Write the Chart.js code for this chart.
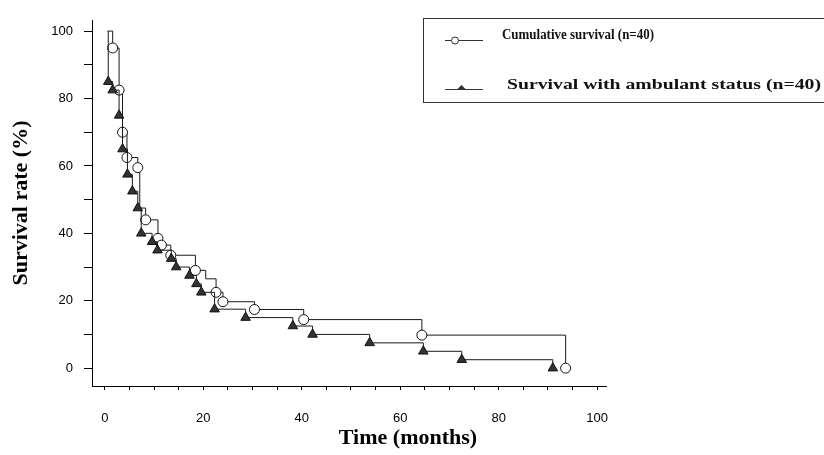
<!DOCTYPE html>
<html>
<head>
<meta charset="utf-8">
<script src="https://cdn.jsdelivr.net/npm/chart.js@4.4.1/dist/chart.umd.min.js"></script>
<style>
  html, body { margin: 0; padding: 0; background: #fff; }
</style>
</head>
<body>
<canvas id="chart" width="824" height="455"></canvas>
<script>
// Series labels and axis titles
var cumLabel = "Cumulative survival (n=40)";
var ambLabel = "Survival with ambulant status (n=40)";
var xTitle = "Time (months)";
var yTitle = "Survival rate (%)";

// Cumulative survival curve (time in months, survival %)
var cumTime = [0.6, 1.6, 2.9, 3.6, 4.5, 6.7, 7.1, 8.3, 10.8, 11.5, 13.4, 18.4, 20.5, 22.6, 24.0, 30.4, 40.4, 64.4, 93.6];
var cumSurv = [100, 95, 82.5, 70, 62.5, 59.5, 47.5, 44, 38.5, 36.5, 33.5, 29, 26.5, 22.5, 19.7, 17.4, 14.4, 9.8, 0];
var cumNoMark = [0, 6, 12];

// Survival with ambulant status
var ambTime = [0.6, 0.7, 1.6, 2.9, 3.6, 4.6, 5.6, 6.7, 7.4, 9.6, 10.7, 13.5, 14.5, 17.2, 18.6, 19.6, 22.3, 28.6, 38.2, 42.2, 53.8, 64.7, 72.5, 91.0];
var ambSurv = [100, 85, 82.5, 75, 65, 57.5, 52.5, 47.5, 40, 37.5, 35, 32.5, 30, 27.5, 25, 22.5, 17.5, 15, 12.5, 10, 7.5, 5, 2.5, 0];
var ambNoMark = [0];

// Axis ticks
var xTicks = [0, 5, 10, 15, 20, 25, 30, 35, 40, 45, 50, 55, 60, 65, 70, 75, 80, 85, 90, 95, 100];
var xLabels = [0, 20, 40, 60, 80, 100];
var yTicks = [0, 10, 20, 30, 40, 50, 60, 70, 80, 90, 100];
var yLabels = [0, 20, 40, 60, 80, 100];

function toPoints(times, values) {
  return times.map(function (t, i) { return { x: t, y: values[i] }; });
}

// Legend drawn as a boxed panel in the upper right, plus the x title
var boxLegend = {
  id: "boxLegend",
  afterDraw: function (chart) {
    var ctx = chart.ctx;
    var sets = chart.data.datasets;
    ctx.save();
    ctx.strokeStyle = "#333";
    ctx.lineWidth = 1;
    ctx.strokeRect(423.5, 18.5, 420, 84);

    // symbols
    ctx.beginPath();
    ctx.moveTo(445, 40.5); ctx.lineTo(483, 40.5);
    ctx.moveTo(445, 89.5); ctx.lineTo(483, 89.5);
    ctx.stroke();
    ctx.beginPath();
    ctx.arc(455, 40.5, 3.5, 0, Math.PI * 2);
    ctx.fillStyle = "#fff"; ctx.fill(); ctx.stroke();
    ctx.beginPath();
    ctx.moveTo(457, 89.5); ctx.lineTo(466, 89.5); ctx.lineTo(461.5, 85);
    ctx.closePath();
    ctx.fillStyle = "#333"; ctx.fill();

    // texts, fitted to the widths seen in the reference
    ctx.fillStyle = "#111";
    ctx.font = "bold 15px 'Liberation Serif'";
    ctx.textBaseline = "alphabetic";
    var rows = [
      { text: sets[1].label, x: 502, y: 38.5, w: 152 },
      { text: sets[0].label, x: 507, y: 88.5, w: 314 }
    ];
    rows.forEach(function (r) {
      var m = ctx.measureText(r.text).width;
      ctx.save();
      ctx.translate(r.x, r.y);
      ctx.scale(r.w / m, 1);
      ctx.fillText(r.text, 0, 0);
      ctx.restore();
    });

    // x axis title, centred where the reference has it
    ctx.font = "bold 22px 'Liberation Serif'";
    ctx.textAlign = "center";
    ctx.textBaseline = "middle";
    ctx.fillStyle = "#000";
    ctx.fillText(xTitle, 408, 438);
    ctx.restore();
  }
};

var ctx = document.getElementById("chart").getContext("2d");

var chart = new Chart(ctx, {
  type: "line",
  data: {
    datasets: [
      {
        label: ambLabel,
        data: toPoints(ambTime, ambSurv),
        stepped: true,
        borderColor: "#1a1a1a",
        borderWidth: 1,
        fill: false,
        pointStyle: "triangle",
        pointRadius: function (c) { return ambNoMark.indexOf(c.dataIndex) >= 0 ? 0 : 5.5; },
        pointBackgroundColor: "#333",
        pointBorderColor: "#111",
        pointBorderWidth: 1
      },
      {
        label: cumLabel,
        data: toPoints(cumTime, cumSurv),
        stepped: true,
        borderColor: "#1a1a1a",
        borderWidth: 1,
        fill: false,
        pointStyle: "circle",
        pointRadius: function (c) { return cumNoMark.indexOf(c.dataIndex) >= 0 ? 0 : 5; },
        pointBackgroundColor: "#fff",
        pointBorderColor: "#111",
        pointBorderWidth: 1
      }
    ]
  },
  options: {
    responsive: false,
    animation: false,
    layout: { padding: { top: 20, right: 218, left: 0, bottom: 0 } },
    scales: {
      x: {
        type: "linear",
        min: -2.6,
        max: 101.8,
        afterBuildTicks: function (axis) {
          axis.ticks = xTicks.map(function (v) { return { value: v }; });
        },
        afterFit: function (axis) { axis.height = 69; },
        ticks: {
          autoSkip: false,
          maxRotation: 0,
          padding: 21,
          color: "#000",
          font: { family: "'Liberation Sans'", size: 13 },
          callback: function (v) { return xLabels.indexOf(v) >= 0 ? String(v) : ""; }
        },
        grid: { drawOnChartArea: false, tickLength: 4, color: "#000" },
        border: { color: "#000", width: 1 }
      },
      y: {
        min: -5.3,
        max: 103.3,
        afterBuildTicks: function (axis) {
          axis.ticks = yTicks.map(function (v) { return { value: v }; });
        },
        afterFit: function (axis) { axis.width = 92; },
        ticks: {
          autoSkip: false,
          padding: 11,
          color: "#000",
          font: { family: "'Liberation Sans'", size: 13 },
          callback: function (v) { return yLabels.indexOf(v) >= 0 ? String(v) : ""; }
        },
        grid: { drawOnChartArea: false, tickLength: 8, color: "#000" },
        border: { color: "#000", width: 1 },
        title: {
          display: true,
          text: yTitle,
          color: "#000",
          font: { family: "'Liberation Serif'", size: 22, weight: "bold" },
          padding: { top: 8, bottom: 0 }
        }
      }
    },
    plugins: {
      legend: { display: false },
      tooltip: { enabled: false }
    }
  },
  plugins: [boxLegend]
});
</script>
</body>
</html>
